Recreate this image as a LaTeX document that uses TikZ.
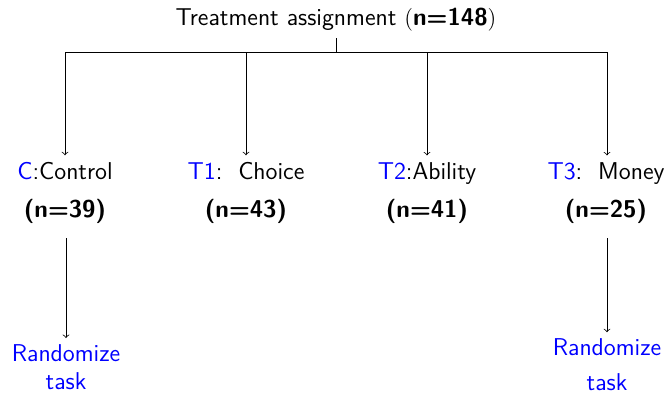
\documentclass[tikz,border=0pt]{standalone}
\renewcommand{\familydefault}{\sfdefault}
\usetikzlibrary{positioning}

\begin{document}
\begin{tikzpicture}[x=0.526pt,y=-0.526pt,
        font=\fontsize{12.8pt}{15.4pt}\selectfont,
        arm/.style={align=center},
        task/.style={align=center, text=blue}]
    \useasboundingbox (0,0) rectangle (668,393);

    \node (top) at (336,20) {Treatment assignment $($\textbf{n=148}$)$};

    % bar under the top node
    \coordinate (b1) at (65,52);
    \coordinate (b2) at (246,52);
    \coordinate (b3) at (427,52);
    \coordinate (b4) at (607,52);
    \draw (top) -- (336,52);
    \draw (b1) -- (b4);

    \node[arm] (ctrl)  at (65,193)  {\textcolor{blue}{C}:Control\\[5pt]\textbf{(n=39)}};
    \node[arm] (choice) at (246,193) {\textcolor{blue}{T1}:\ \ Choice\\[5pt]\textbf{(n=43)}};
    \node[arm] (abil)  at (427,193) {\textcolor{blue}{T2}:Ability\\[5pt]\textbf{(n=41)}};
    \node[arm] (money) at (606,193) {\textcolor{blue}{T3}:\ \ Money\\[5pt]\textbf{(n=25)}};

    \draw[->] (b1) -- (b1 |- ctrl.north);
    \draw[->] (b2) -- (b2 |- choice.north);
    \draw[->] (b3) -- (b3 |- abil.north);
    \draw[->] (b4) -- (b4 |- money.north);

    \node[task] (rand1) at (66,367) {Randomize\\[-1pt]task};
    \node[task] (rand2) at (607,365) {Randomize\\[3pt]task};

    \draw[->] ([yshift=-4pt]ctrl.south -| rand1) -- (rand1.north);
    \draw[->] ([yshift=-4pt]money.south -| rand2) -- (rand2.north);

\end{tikzpicture}
\end{document}
